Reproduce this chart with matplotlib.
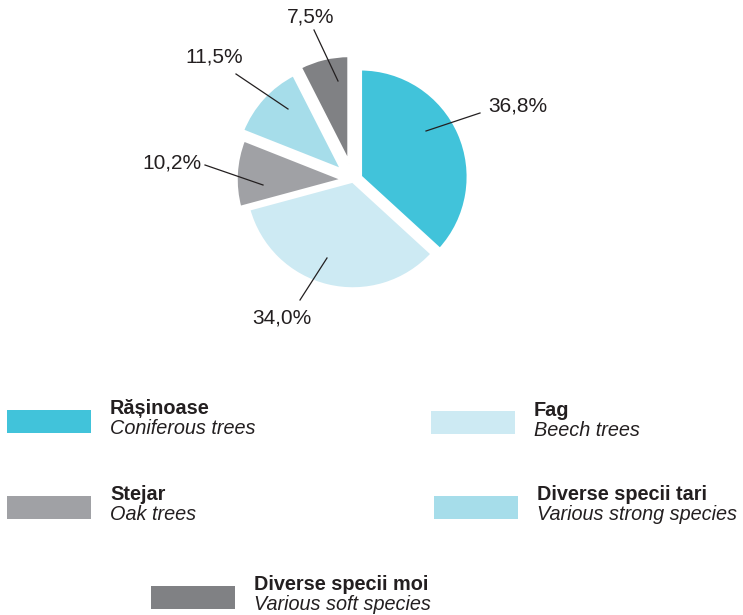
import matplotlib.pyplot as plt
from matplotlib.patches import Rectangle

# data
names_ro = ['Rășinoase', 'Fag', 'Stejar', 'Diverse specii tari', 'Diverse specii moi']
names_en = ['Coniferous trees', 'Beech trees', 'Oak trees', 'Various strong species', 'Various soft species']
shares = [36.8, 34.0, 10.2, 11.5, 7.5]
labels = ['36,8%', '34,0%', '10,2%', '11,5%', '7,5%']
colors = ['#41c3da', '#cdeaf3', '#a0a1a5', '#a6ddea', '#808184']

plt.rcParams['font.family'] = ['Liberation Sans', 'DejaVu Sans']
txt = '#231f20'
H = 615

fig = plt.figure(figsize=(7.43, 6.15), dpi=100)
ax = fig.add_axes([0, 0, 1, 1])

# explode is in data units (pixels here)
ax.pie(shares, colors=colors, startangle=90, counterclock=False,
       center=(353, H - 180), radius=108,
       explode=[8, 1, 9, 14, 17],
       wedgeprops=dict(linewidth=2.5, edgecolor='white'))
# pie resets the limits, so set them afterwards
ax.set_xlim(0, 743)
ax.set_ylim(0, H)
ax.set_aspect('equal')
ax.axis('off')

# leader lines and labels (pixel positions from top-left)
lines = [((426, 131), (480, 113)), ((327, 258), (300, 300)), ((263, 185), (205, 165)),
         ((288, 109), (236, 74)), ((338, 81), (314, 30))]
lab_pos = [(518, 106), (282, 318), (172, 163), (214, 57), (311, 17)]
for (p0, p1), (lx, ly), lab in zip(lines, lab_pos, labels):
    ax.plot([p0[0], p1[0]], [H - p0[1], H - p1[1]], color=txt, lw=0.9)
    ax.text(lx, H - ly, lab, fontsize=15, color=txt, ha='center', va='center')

# legend
leg = [(7, 410, 110), (431, 411, 534), (7, 496, 110), (434, 496, 537), (151, 586, 254)]
for (bx, by, tx), c, ro, en in zip(leg, colors, names_ro, names_en):
    ax.add_patch(Rectangle((bx, H - by - 23), 84, 23, color=c, lw=0))
    ax.text(tx, H - by + 1, ro, fontsize=14.3, fontweight='bold', color=txt, va='center')
    ax.text(tx, H - by - 19, en, fontsize=14.3, style='italic', color=txt, va='center')

fig.savefig('out.png', dpi=100)
